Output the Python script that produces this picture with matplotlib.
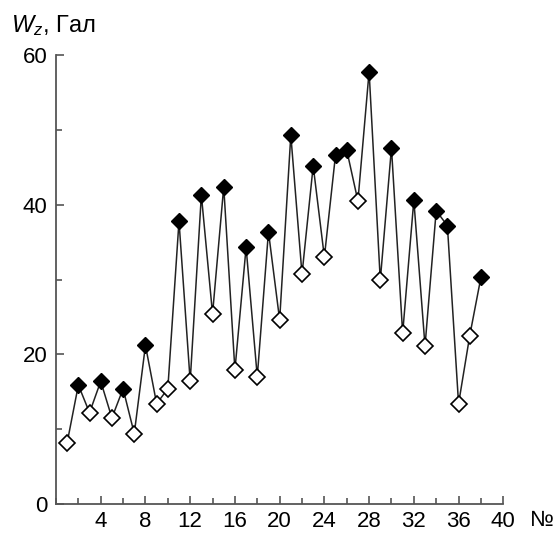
import matplotlib
matplotlib.use("Agg")
import matplotlib.pyplot as plt
from matplotlib.ticker import MultipleLocator

plt.rcParams['font.family'] = ['Liberation Sans', 'DejaVu Sans']
plt.rcParams['mathtext.fontset'] = 'custom'
plt.rcParams['mathtext.it'] = 'Liberation Sans:italic'
plt.rcParams['mathtext.rm'] = 'Liberation Sans'

# номер точки и значения Wz, Гал
nums = list(range(1, 39))
wz = [8.2, 15.9, 12.2, 16.4, 11.5, 15.4, 9.4, 21.2, 13.4, 15.4,
      37.8, 16.4, 41.3, 25.4, 42.4, 17.9, 34.3, 17.0, 36.4, 24.6,
      49.3, 30.7, 45.2, 33.0, 46.7, 47.3, 40.5, 57.8, 29.9, 47.6,
      22.8, 40.6, 21.1, 39.2, 37.2, 13.4, 22.5, 30.3]
# закрашенные точки
filled = [2, 4, 6, 8, 11, 13, 15, 17, 19, 21, 23, 25, 26, 28, 30, 32, 34, 35, 38]

fig = plt.figure(figsize=(5.56, 5.35), dpi=100)
ax = fig.add_axes([0.1007, 0.058, 0.8045, 0.839])

ax.plot(nums, wz, color='#222222', lw=1.1, zorder=1)
xf = [n for n in nums if n in filled]
yf = [wz[n - 1] for n in xf]
xo = [n for n in nums if n not in filled]
yo = [wz[n - 1] for n in xo]
ax.plot(xf, yf, 'D', ms=8.5, mfc='black', mec='black', mew=1.0, ls='none', zorder=3)
ax.plot(xo, yo, 'D', ms=8.5, mfc='white', mec='black', mew=1.2, ls='none', zorder=3)

ax.set_xlim(0, 40)
ax.set_ylim(0, 60)
for s in ['top', 'right']:
    ax.spines[s].set_visible(False)
for s in ['left', 'bottom']:
    ax.spines[s].set_color('#555555')
    ax.spines[s].set_linewidth(1.3)

ax.xaxis.set_major_locator(MultipleLocator(4))
ax.xaxis.set_minor_locator(MultipleLocator(2))
ax.yaxis.set_major_locator(MultipleLocator(20))
ax.yaxis.set_minor_locator(MultipleLocator(10))
ax.tick_params(which='major', direction='in', length=6, width=1.2, color='#555555',
               labelsize=16, pad=6)
ax.tick_params(axis='x', which='major', pad=5)
ax.tick_params(which='minor', direction='in', length=4, width=1.2, color='#555555')
ax.set_xticks([4, 8, 12, 16, 20, 24, 28, 32, 36, 40])
ax.set_yticks([0, 20, 40, 60])

fig.text(0.975, 0.028, '№', fontsize=16, ha='center', va='center')
fig.text(0.02, 0.953, r'$W_z$, Гал', fontsize=17, ha='left', va='center')

fig.savefig('out.png', dpi=100)
